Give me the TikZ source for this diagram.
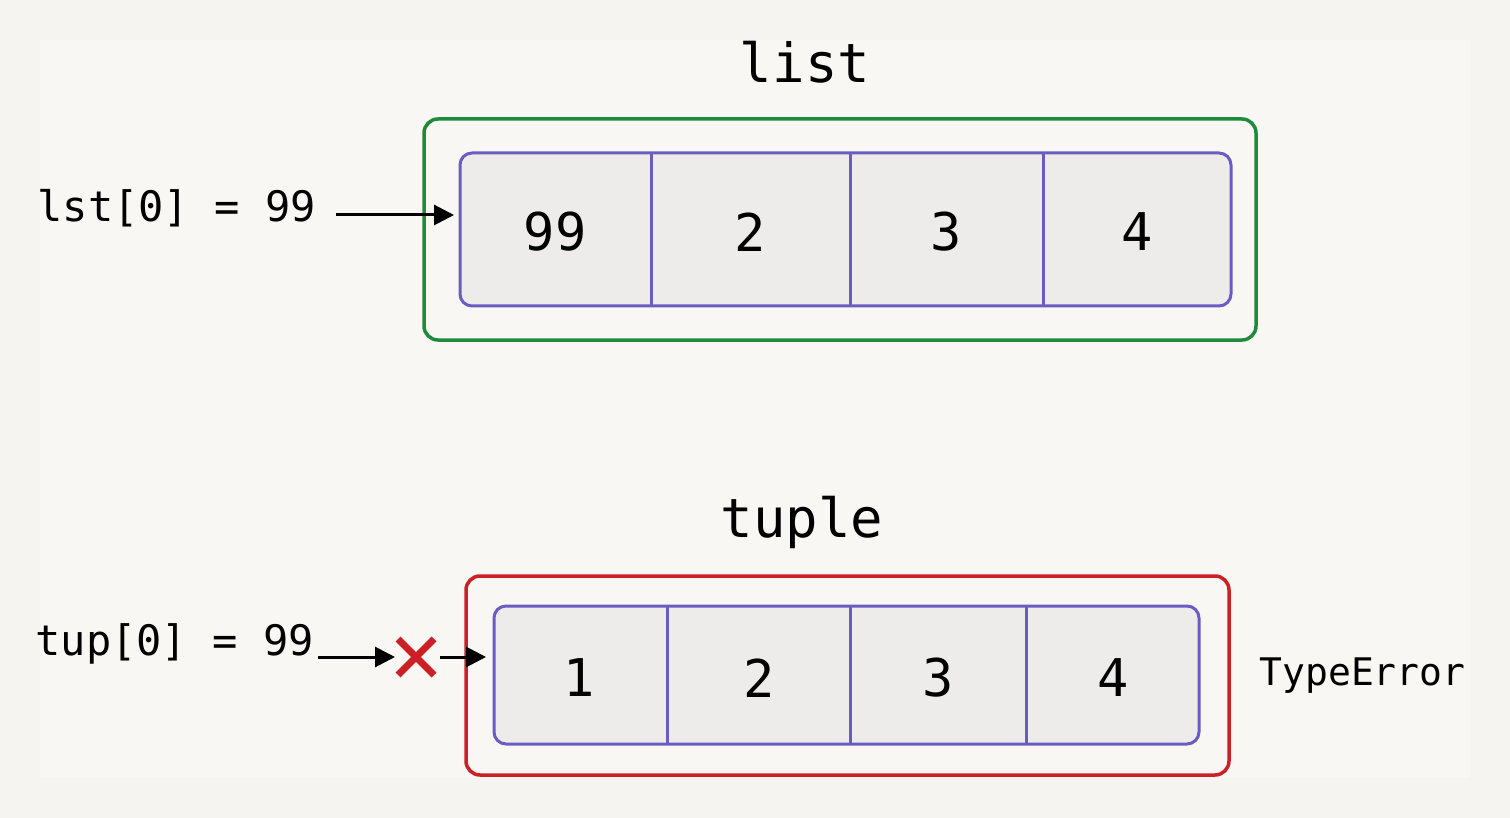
\documentclass[tikz,border=0pt]{standalone}
\usepackage{fontspec}
\setmonofont{DejaVu Sans Mono}
\usetikzlibrary{arrows.meta}
\definecolor{bgout}{HTML}{F5F4F1}
\definecolor{bgin}{HTML}{F8F7F4}
\definecolor{cellf}{HTML}{EDECEB}
\definecolor{purp}{HTML}{6A5CC0}
\definecolor{grn}{HTML}{1E8A3A}
\definecolor{rd}{HTML}{CC1F26}
\begin{document}
\begin{tikzpicture}[x=1pt,y=-1pt,
  box/.style={rounded corners=14pt,line width=3.5pt},
  cellbox/.style={draw=purp,fill=cellf,rounded corners=12pt,line width=3pt},
  div/.style={draw=purp,line width=3pt},
  num/.style={font=\ttfamily\fontsize{52}{52}\selectfont,text=black},
  ttl/.style={font=\ttfamily\fontsize{54}{54}\selectfont},
  lbl/.style={font=\ttfamily\fontsize{42}{42}\selectfont,anchor=west},
  arr/.style={-{Triangle[length=20pt,width=20pt]},line width=3pt}]
\fill[bgout] (0,0) rectangle (1510,818);
\fill[bgin] (40,40) rectangle (1470,778);
\useasboundingbox (0,0) rectangle (1510,818);
% list
\node[ttl] (tl) at (805,62) {list};
\draw[box,draw=grn] (424,119) rectangle (1256,340);
\draw[cellbox] (460,153) rectangle (1231,306);
\foreach \x in {651,850,1043} \draw[div] (\x,153) -- (\x,306);
\node[num] (l1) at (555,232) {99};
\node[num] (l2) at (750,232) {2};
\node[num] (l3) at (946,232) {3};
\node[num] (l4) at (1137,232) {4};
\node[lbl] (lab1) at (34,208) {lst[0] = 99};
\coordinate (a1s) at (336,215);
\coordinate (a1e) at (454,215);
\draw[arr] (a1s) -- (a1e);
% tuple
\node[ttl] (tt) at (802,522) {tuple};
\draw[box,draw=rd] (466,576) rectangle (1229,775);
\draw[cellbox] (494,606) rectangle (1199,744);
\foreach \x in {667,850,1026} \draw[div] (\x,606) -- (\x,744);
\node[num] (t1) at (579,678) {1};
\node[num] (t2) at (759,678) {2};
\node[num] (t3) at (938,678) {3};
\node[num] (t4) at (1113,678) {4};
\node[lbl] (lab2) at (32,644) {tup[0] = 99};
\coordinate (a2s) at (318,657);
\coordinate (a2e) at (395,657);
\draw[arr] (a2s) -- (a2e);
\node (x) at (416,657) {};
\draw[rd,line width=7pt] (398,639) -- (434,675) (434,639) -- (398,675);
\coordinate (a3s) at (440,657);
\coordinate (a3e) at (486,657);
\draw[arr] (a3s) -- (a3e);
\node[font=\ttfamily\fontsize{38}{38}\selectfont,anchor=west] (te) at (1256,676) {TypeError};
\end{tikzpicture}
\end{document}
